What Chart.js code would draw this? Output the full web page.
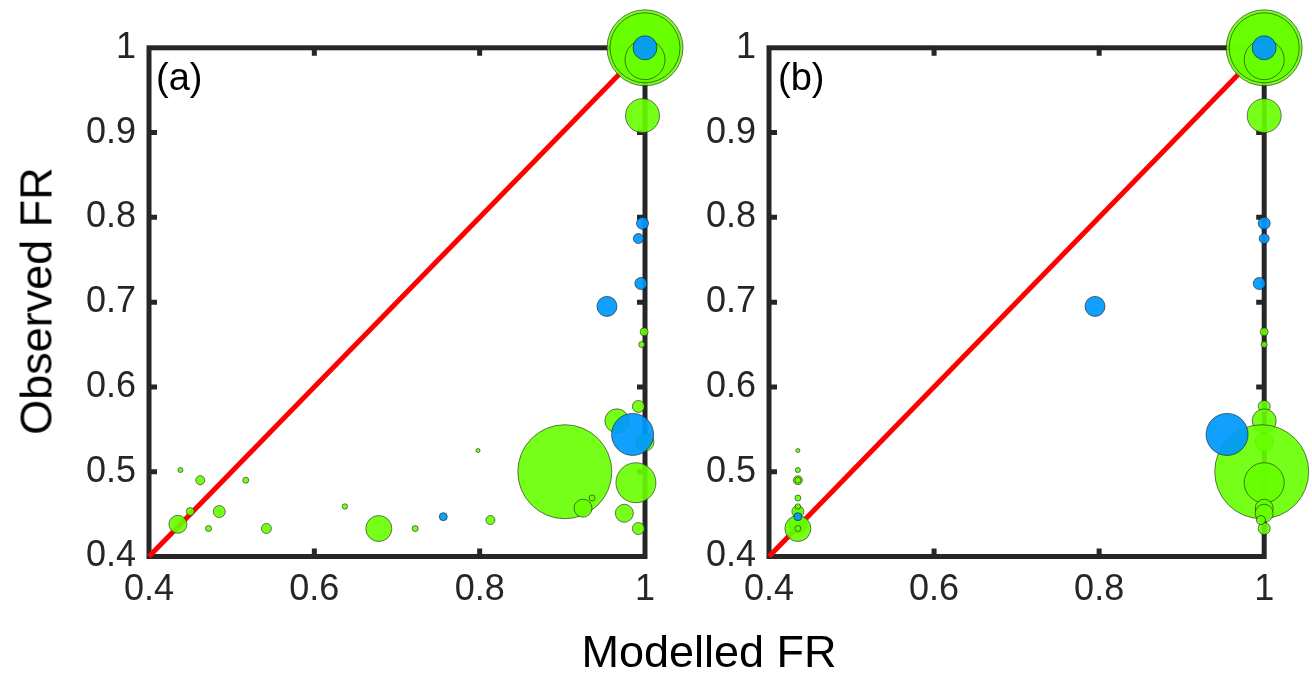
<!DOCTYPE html>
<html>
<head>
<meta charset="utf-8">
<script src="https://cdn.jsdelivr.net/npm/chart.js@4.4.1/dist/chart.umd.min.js"></script>
<style>
  body { margin: 0; background: #fff; width: 1312px; height: 676px; overflow: hidden; position: relative;
         font-family: "Liberation Sans", Arial, sans-serif; }
  canvas { position: absolute; top: 0; }
  #canvasA { left: 0; }
  #canvasB { left: 620px; }
  .txt { position: absolute; white-space: nowrap; color: #000; line-height: 1; }
  #ylab { left: 36px; top: 301px; font-size: 45px; transform: translate(-50%, -50%) rotate(-90deg); }
  #xlab { left: 709px; top: 651px; font-size: 45px; transform: translate(-50%, -50%); }
  .panel { top: 77px; font-size: 38px; transform: translateY(-50%); }
  #labA { left: 156px; }
  #labB { left: 778px; }
</style>
</head>
<body>
<canvas id="canvasA" width="700" height="676"></canvas>
<canvas id="canvasB" width="692" height="676"></canvas>
<div class="txt" id="ylab">Observed FR</div>
<div class="txt" id="xlab">Modelled FR</div>
<div class="txt panel" id="labA">(a)</div>
<div class="txt panel" id="labB">(b)</div>
<script>
// ticks de los ejes
const ticksY = [0.4, 0.5, 0.6, 0.7, 0.8, 0.9, 1];
const ticksX = [0.4, 0.6, 0.8, 1];
const diagonal = [0.4, 1];

// puntos verdes: FR observado, FR modelado (a) y (b), tamaño del marcador
const greenObserved = [1.000, 1.000, 0.986, 0.920, 0.665, 0.650, 0.577, 0.560, 0.535, 0.500, 0.487, 0.457, 0.451, 0.469,
                       0.433, 0.443, 0.438, 0.502, 0.490, 0.453, 0.453, 0.433, 0.490, 0.433, 0.459, 0.433, 0.433, 0.525];
const greenModelA   = [1.000, 1.000, 1.000, 0.997, 0.999, 0.996, 0.992, 0.966, 1.000, 0.903, 0.989, 0.925, 0.975, 0.936,
                       0.992, 0.813, 0.435, 0.438, 0.462, 0.450, 0.485, 0.472, 0.517, 0.542, 0.637, 0.678, 0.722, 0.798];
const greenModelB   = [1.000, 1.000, 1.000, 1.000, 1.000, 1.000, 1.000, 1.000, 1.000, 0.997, 1.000, 1.000, 1.000, 0.435,
                       1.000, 0.996, 0.435, 0.435, 0.435, 0.435, 0.435, 0.435, 0.435, 0.435, 0.435, 0.435, 0.435, 0.435];
const greenSize     = [38, 35, 20, 17, 4, 3, 6, 12, 9, 47, 20, 9, 9, 3,
                       6, 4.5, 9, 2.5, 4.5, 4, 6, 3, 3, 5, 2.7, 13, 3, 2];

// puntos azules
const blueObserved = [1.000, 0.793, 0.775, 0.722, 0.695, 0.544, 0.447];
const blueModelA   = [1.000, 0.997, 0.992, 0.995, 0.954, 0.985, 0.756];
const blueModelB   = [1.000, 1.000, 1.000, 0.994, 0.795, 0.955, 0.435];
const blueSize     = [12, 6, 5, 6, 10, 21, 4];

const fuenteTicks = { family: "'Liberation Sans', Arial, sans-serif", size: 36 };
const colorEje = '#262626';

function puntos(xs, ys, rs) {
    return ys.map((y, i) => ({ x: xs[i], y: y, r: rs[i] }));
}

// caja del eje con ticks hacia dentro (estilo matlab)
const marco = {
    id: 'marco',
    beforeDatasetsDraw(chart) {
        const ctx = chart.ctx;
        const a = chart.chartArea;
        const sx = chart.scales.x, sy = chart.scales.y;
        ctx.save();
        ctx.strokeStyle = colorEje;
        ctx.lineWidth = 5;
        ctx.strokeRect(a.left, a.top, a.right - a.left, a.bottom - a.top);
        ctx.beginPath();
        ticksY.slice(1, -1).forEach(v => {
            const py = sy.getPixelForValue(v);
            ctx.moveTo(a.left, py); ctx.lineTo(a.left + 8, py);
            ctx.moveTo(a.right, py); ctx.lineTo(a.right - 8, py);
        });
        ticksX.slice(1, -1).forEach(v => {
            const px = sx.getPixelForValue(v);
            ctx.moveTo(px, a.bottom); ctx.lineTo(px, a.bottom - 8);
            ctx.moveTo(px, a.top); ctx.lineTo(px, a.top + 8);
        });
        ctx.stroke();
        ctx.restore();
    }
};

function crearPanel(idCanvas, greenX, blueX, derecha) {
    const ctx = document.getElementById(idCanvas);
    return new Chart(ctx, {
        type: 'bubble',
        data: {
            datasets: [{
                label: 'azul',
                data: puntos(blueX, blueObserved, blueSize),
                backgroundColor: 'rgba(0,153,255,0.93)',
                borderColor: 'rgba(30,30,30,0.8)',
                borderWidth: 0.8,
                order: 0,
                clip: false
            }, {
                label: 'verde',
                data: puntos(greenX, greenObserved, greenSize),
                backgroundColor: 'rgba(102,255,0,0.9)',
                borderColor: 'rgba(30,30,30,0.75)',
                borderWidth: 0.8,
                order: 1,
                clip: false
            }, {
                type: 'line',
                label: '1:1',
                data: diagonal.map(v => ({ x: v, y: v })),
                borderColor: '#ff0000',
                borderWidth: 5,
                pointRadius: 0,
                order: 2,
                clip: false
            }]
        },
        options: {
            responsive: false,
            animation: false,
            events: [],
            layout: { padding: { left: 0, top: 46.5, right: derecha, bottom: 0 } },
            plugins: { legend: { display: false }, tooltip: { enabled: false } },
            scales: {
                x: {
                    type: 'linear', min: 0.4, max: 1,
                    afterBuildTicks: s => { s.ticks = ticksX.map(v => ({ value: v })); },
                    afterFit: s => { s.height = 119.5; },
                    ticks: { font: fuenteTicks, color: colorEje, padding: 12, maxRotation: 0, autoSkip: false,
                             callback: v => String(v) },
                    grid: { display: false, drawTicks: false },
                    border: { display: false }
                },
                y: {
                    type: 'linear', min: 0.4, max: 1,
                    afterBuildTicks: s => { s.ticks = ticksY.map(v => ({ value: v })); },
                    afterFit: s => { s.width = 149; },
                    ticks: { font: fuenteTicks, color: colorEje, padding: 13, autoSkip: false,
                             callback: v => String(v) },
                    grid: { display: false, drawTicks: false },
                    border: { display: false }
                }
            }
        },
        plugins: [marco]
    });
}

crearPanel('canvasA', greenModelA, blueModelA, 55);
crearPanel('canvasB', greenModelB, blueModelB, 45);
</script>
</body>
</html>
